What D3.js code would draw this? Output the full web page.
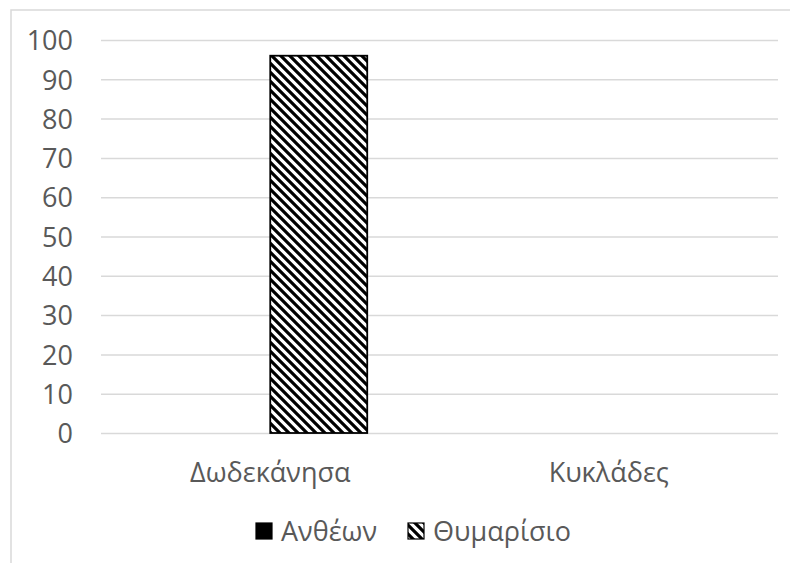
<!DOCTYPE html>
<html><head><meta charset="utf-8">
<script src="https://cdn.jsdelivr.net/npm/d3@7"></script>
<style>
html,body{margin:0;padding:0;background:#fff;}
svg{display:block;font-family:"Open Sans","Noto Sans",sans-serif;}
</style></head>
<body>
<svg id="chart" width="790" height="563"></svg>
<script>
const categories = ["Δωδεκάνησα", "Κυκλάδες"];
const seriesNames = ["Ανθέων", "Θυμαρίσιο"];
const anthewn = [0, 0];
const thymarisio = [96, 0];
const yTicks = [0, 10, 20, 30, 40, 50, 60, 70, 80, 90, 100];

(function () {
const seriesValues = [anthewn, thymarisio];
const svg = d3.select("#chart");
const W = 790, H = 563;
const pLeft = 101, pRight = 778, pTop = 40, pBottom = 433;
const FS = 27;

const defs = svg.append("defs");
const pat = defs.append("pattern").attr("id", "hatch")
  .attr("patternUnits", "userSpaceOnUse").attr("width", 9).attr("height", 9);
pat.append("rect").attr("width", 9).attr("height", 9).attr("fill", "#fff");
pat.append("path").attr("d", "M0,0L9,9M-3,6L3,12M6,-3L12,3")
  .attr("stroke", "#000").attr("stroke-width", 3.2);

svg.append("rect").attr("width", W).attr("height", H).attr("fill", "#fff");
svg.append("rect").attr("x", 11).attr("y", 10).attr("width", 820).attr("height", 600)
  .attr("fill", "none").attr("stroke", "#d9d9d9").attr("stroke-width", 1.5);

const y = d3.scaleLinear().domain([0, 100]).range([pBottom, pTop]);
const x0 = d3.scaleBand().domain(categories).range([pLeft, pRight])
  .paddingInner(0.427).paddingOuter(0.2135);
const x1 = d3.scaleBand().domain(seriesNames).range([0, x0.bandwidth()]);

const yAxis = d3.axisLeft(y).tickValues(yTicks).tickSize(-(pRight - pLeft)).tickFormat(d3.format("d"));
const gy = svg.append("g").attr("transform", `translate(${pLeft},0)`).call(yAxis);
gy.select(".domain").remove();
gy.selectAll(".tick line").attr("stroke", "#d9d9d9").attr("stroke-width", 1.5);
gy.selectAll(".tick text").attr("x", -28).attr("dy", "0.36em")
  .attr("fill", "#595959").attr("font-size", FS);

const data = [];
categories.forEach((c, i) => seriesNames.forEach((s, j) => data.push({c, s, v: seriesValues[j][i]})));
svg.append("g").selectAll("rect").data(data.filter(d => d.v > 0)).join("rect")
  .attr("x", d => x0(d.c) + x1(d.s))
  .attr("y", d => y(d.v))
  .attr("width", x1.bandwidth())
  .attr("height", d => y(0) - y(d.v))
  .attr("fill", d => d.s === "Ανθέων" ? "#000" : "url(#hatch)")
  .attr("stroke", "#000").attr("stroke-width", 1.8);

const xAxis = d3.axisBottom(x0).tickSize(0);
const gx = svg.append("g").attr("transform", `translate(0,${pBottom})`).call(xAxis);
gx.select(".domain").remove();
gx.selectAll(".tick text").attr("y", 0).attr("dy", 49)
  .attr("fill", "#595959").attr("font-size", FS);
gy.attr("font-family", null);
gx.attr("font-family", null);

const legendItems = [
  {name: seriesNames[0], x: 256, fill: "#000"},
  {name: seriesNames[1], x: 408, fill: "url(#hatch)"}
];
const lg = svg.append("g");
legendItems.forEach(it => {
  lg.append("rect").attr("x", it.x).attr("y", 523).attr("width", 16).attr("height", 16)
    .attr("fill", it.fill).attr("stroke", "#000").attr("stroke-width", 1.2);
  lg.append("text").attr("x", it.x + 25).attr("y", 541).text(it.name)
    .attr("fill", "#595959").attr("font-size", FS);
});
})();
</script>
</body></html>
